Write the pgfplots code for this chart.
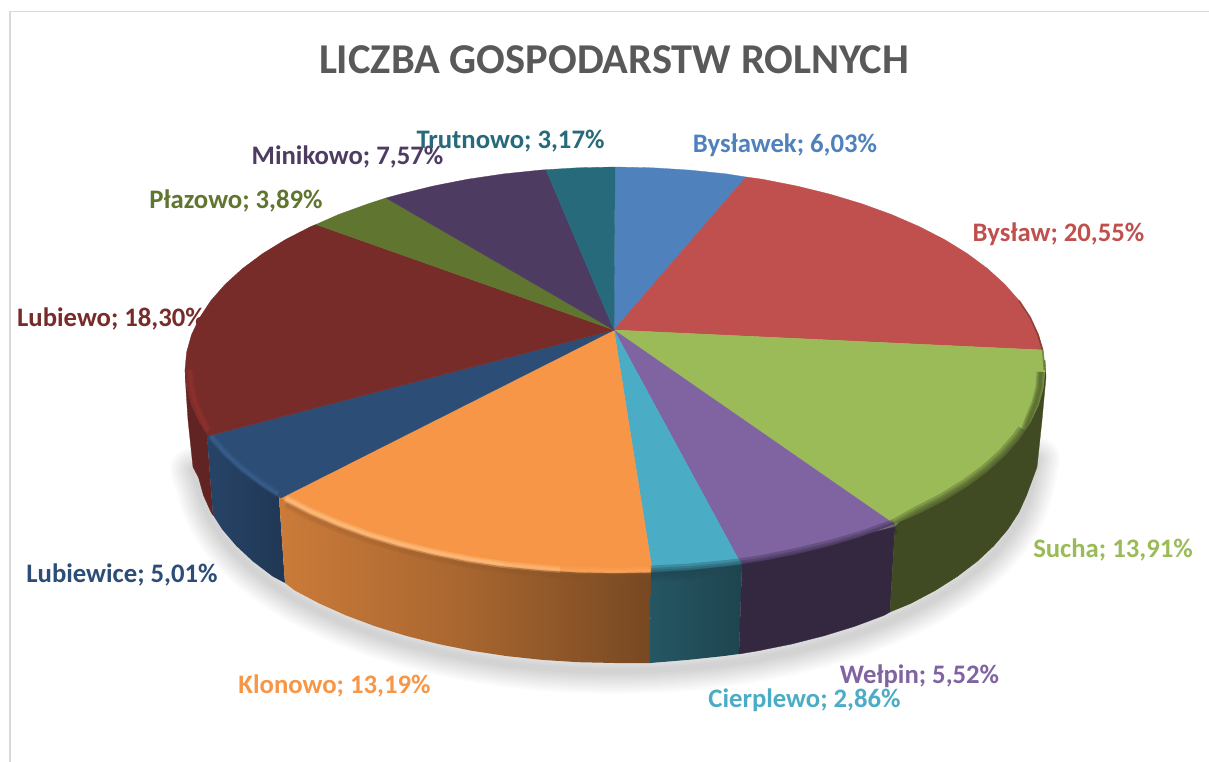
\documentclass[border=0pt]{standalone}
\usepackage{fontspec}
\setmainfont{Carlito}
\usepackage{pgfplots}
\pgfplotsset{compat=1.18}
\usepackage{pgfplotstable}
\definecolor{cA}{HTML}{4F81BD}
\definecolor{cB}{HTML}{C0504D}
\definecolor{cC}{HTML}{9BBB59}
\definecolor{cD}{HTML}{8064A2}
\definecolor{cE}{HTML}{4BACC6}
\definecolor{cF}{HTML}{F79646}
\definecolor{cG}{HTML}{2C4D75}
\definecolor{cH}{HTML}{772C2A}
\definecolor{cI}{HTML}{5F7530}
\definecolor{cJ}{HTML}{4D3B62}
\definecolor{cK}{HTML}{276A7C}
\definecolor{wC}{HTML}{414B23}
\definecolor{wD}{HTML}{332840}
\definecolor{wH}{HTML}{622422}
\pgfplotstableread{
x y
1037 452
1031.4 477.7
1026.6 495.2
1018.8 512.5
1007.8 529.4
993.8 545.8
977 561.5
957.4 576.4
935.2 590.5
910.6 603.5
883.7 615.5
854.8 626.3
824 635.8
791.7 644
758 650.8
723.2 656.1
687.6 659.9
651.4 662.2
615 663
578.6 662.2
542.4 659.9
506.8 656.1
472 650.8
438.3 644
406 635.8
375.2 626.3
346.3 615.5
319.4 603.5
294.8 590.5
272.6 576.4
253 561.5
236.2 545.8
222.2 529.4
211.2 512.5
203.4 495.2
198.6 477.7
193 462
}\rimbottom
\newcommand{\lab}[4]{\node[text=#1,font=\fontsize{26.7}{30}\selectfont\bfseries,inner sep=0pt] at (axis cs:#2,#3) {#4};}
\begin{document}
\begin{tikzpicture}
\begin{axis}[width=1209pt,height=762pt,scale only axis,xmin=0,xmax=1209,ymin=0,ymax=762,y dir=reverse,hide axis,clip=true]
% background and frame
\addplot[fill=white,draw=none] coordinates {(0,0)(1209,0)(1209,762)(0,762)} --cycle;
\addplot[draw=black!15,line width=1.5pt] coordinates {(1209,11.5)(10,11.5)(10,762)};
% shadow
\pgfplotsinvokeforeach{46,42,38,34,30,26,22,18,14,10,6}{
\addplot[draw=black,opacity=0.014,line width=#1pt,line join=round,line cap=round,yshift=-8pt] table[x=x,y=y] {\rimbottom};
}
% walls
\addplot[fill=wH,draw=wH,line width=.3pt] coordinates {(210.9,439.4)(199.7,422.5)(191.5,405.2)(186.6,387.7)(185,370)(186,390)(188,420)(193,467)(198.6,477.7)(203.4,495.2)(211.2,512.5)(213,515)(207,436)} --cycle;
\addplot[left color=cG!88!black,right color=cG!72!black,draw=none] coordinates {(207,436)(213,515)(222.2,529.4)(236.2,545.8)(253,561.5)(272.6,576.4)(285,583)(279,497)} --cycle;
\addplot[left color=cF!82!black,right color=cF!48!black,middle color=cF!68!black,draw=none] coordinates {(279,497)(285,583)(294.8,590.5)(319.4,603.5)(346.3,615.5)(375.2,626.3)(406,635.8)(438.3,644)(472,650.8)(506.8,656.1)(542.4,659.9)(578.6,662.2)(615,663)(650,663)(651,572)} --cycle;
\addplot[left color=cE!50!black,right color=cE!40!black,draw=none] coordinates {(651,572)(650,663)(687.6,659.9)(723.2,656.1)(739,654)(742,564)} --cycle;
\addplot[fill=wD,draw=wD,line width=.3pt] coordinates {(742,564)(739,654)(758,650.8)(791.7,644)(824,635.8)(854.8,626.3)(883.7,615.5)(890,612)(895,527)} --cycle;
\addplot[fill=wC,draw=wC,line width=.3pt] coordinates {(895,527)(890,612)(910.6,603.5)(935.2,590.5)(957.4,576.4)(977,561.5)(993.8,545.8)(1007.8,529.4)(1018.8,512.5)(1026.6,495.2)(1037,467)(1042,420)(1046,377)(1045,360)} --cycle;
% tops
\addplot[fill=cA,draw=cA,line width=.3pt] coordinates {(614,330)(615,167)(652.5,167.8)(689.6,170.1)(726.3,173.9)(746,177)} --cycle;
\addplot[fill=cB,draw=cB,line width=.3pt] coordinates {(614,330)(746,177)(762.1,179.2)(796.7,186)(830,194.2)(861.6,203.7)(891.4,214.5)(919.1,226.5)(944.4,239.5)(967.3,253.6)(987.4,268.5)(1004.7,284.2)(1019.1,300.6)(1030.3,317.5)(1038.5,334.8)(1043,350)} --cycle;
\addplot[fill=cC,draw=cC,line width=.3pt] coordinates {(614,330)(1043,350)(1043.4,352.3)(1045,370)(1043.4,387.7)(1038.5,405.2)(1030.3,422.5)(1019.1,439.4)(1004.7,455.8)(987.4,471.5)(967.3,486.4)(944.4,500.5)(919.1,513.5)(894,524)} --cycle;
\addplot[fill=cD,draw=cD,line width=.3pt] coordinates {(614,330)(894,524)(861.6,536.3)(830,545.8)(796.7,554)(762.1,560.8)(741,564)} --cycle;
\addplot[fill=cE,draw=cE,line width=.3pt] coordinates {(614,330)(741,564)(726.3,566.1)(689.6,569.9)(652.5,572.2)} --cycle;
\addplot[fill=cF,draw=cF,line width=.3pt] coordinates {(614,330)(652.5,572.2)(615,573)(577.5,572.2)(540.4,569.9)(503.7,566.1)(467.9,560.8)(433.3,554)(400,545.8)(368.4,536.3)(338.6,525.5)(310.9,513.5)(285.6,500.5)(281,498)} --cycle;
\addplot[fill=cG,draw=cG,line width=.3pt] coordinates {(614,330)(281,498)(262.7,486.4)(242.6,471.5)(225.3,455.8)(210.9,439.4)(208,436)} --cycle;
\addplot[fill=cH,draw=cH,line width=.3pt] coordinates {(614,330)(208,436)(199.7,422.5)(191.5,405.2)(186.6,387.7)(185,370)(186.6,352.3)(191.5,334.8)(199.7,317.5)(210.9,300.6)(225.3,284.2)(242.6,268.5)(262.7,253.6)(285.6,239.5)(310.9,226.5)(316,224.5)} --cycle;
\addplot[fill=cI,draw=cI,line width=.3pt] coordinates {(614,330)(316,224.5)(338.6,214.5)(368.4,203.7)(386,198)} --cycle;
\addplot[fill=cJ,draw=cJ,line width=.3pt] coordinates {(614,330)(386,198)(400,194.2)(433.3,186)(467.9,179.2)(503.7,173.9)(540.4,170.1)(546,169.7)} --cycle;
\addplot[fill=cK,draw=cK,line width=.3pt] coordinates {(614,330)(546,169.7)(577.5,167.8)(615,167)} --cycle;
% bevel: dark soft rim on the right part
\pgfplotsinvokeforeach{16,11,7,3}{
\addplot[draw=wC,opacity=0.3,line width=#1pt] coordinates {(1025,431)(1019.1,439.4)(1004.7,455.8)(987.4,471.5)(967.3,486.4)(944.4,500.5)(919.1,513.5)(895,527)};
\addplot[draw=wD,opacity=0.3,line width=#1pt] coordinates {(895,527)(861.6,539)(830,548)(796.7,556)(762.1,563)(742,566)};
\addplot[draw=cE!42!black,opacity=0.3,line width=#1pt] coordinates {(742,566)(726.3,568)(689.6,571.5)(651,573.5)};
}
\pgfplotsinvokeforeach{9,6,3}{
\addplot[draw=wC,opacity=0.3,line width=#1pt] coordinates {(1041,372)(1040,387)(1036,403)(1029,420)(1025,431)};
}
\addplot[draw=cB!55!black,opacity=0.6,line width=1.6pt] coordinates {(1019.1,300.6)(1030.3,317.5)(1038,334.8)(1042.5,350)};
\addplot[draw=cC!55!black,opacity=0.6,line width=1.6pt] coordinates {(1042.5,350)(1043,352.3)(1044.3,370)};
% bevel: highlights on the left part
\pgfplotsinvokeforeach{7,4}{
\addplot[draw=cF!55!black,opacity=0.12,line width=#1pt] coordinates {(651,576)(615,577)(577.5,576)(540.4,573.5)(503.7,570)(467.9,564.5)(433.3,558)(400,549.5)(368.4,540)(338.6,529.5)(310.9,517.5)(285.6,504.5)};
}
\pgfplotsinvokeforeach{7,4,2}{
\addplot[draw=orange!45!white,opacity=0.09,line width=#1pt] coordinates {(651,570.5)(615,571)(577.5,570.5)(540.4,568)(503.7,564.5)};
\addplot[draw=orange!45!white,opacity=0.2,line width=#1pt] coordinates {(560,569.5)(503.7,564.5)};
\addplot[draw=orange!45!white,opacity=0.34,line width=#1pt] coordinates {(503.7,564.5)(467.9,559)(433.3,552)(400,544)(368.4,534.5)(338.6,523.5)(310.9,511.5)(285.6,498.5)};
\addplot[draw=cA!80!black,opacity=0.25,line width=#1pt] coordinates {(278,494)(262.7,484)(242.6,469)(225.3,453)(210.9,436.4)};
\addplot[draw=cH!70!red!90!white,opacity=0.18,line width=#1pt] coordinates {(208,431)(202,419)(195,402)(191,385)(190,370)};
}
% labels
\node[text=black!65,font=\fontsize{42.5}{48}\selectfont\bfseries,inner sep=0pt] at (axis cs:614,60) {LICZBA GOSPODARSTW ROLNYCH};
\lab{cA}{785}{145}{Bysławek; 6,03\%}
\lab{cB}{1058.5}{234}{Bysław; 20,55\%}
\lab{cC}{1113}{550}{Sucha; 13,91\%}
\lab{cD}{919.5}{676}{Wełpin; 5,52\%}
\lab{cE}{804.5}{700}{Cierplewo; 2,86\%}
\lab{cF}{334.5}{686}{Klonowo; 13,19\%}
\lab{cG}{122}{575}{Lubiewice; 5,01\%}
\lab{cH}{111}{319}{Lubiewo; 18,30\%}
\lab{cI}{236}{201}{Płazowo; 3,89\%}
\lab{cJ}{347.5}{157}{Minikowo; 7,57\%}
\lab{cK}{510.5}{141}{Trutnowo; 3,17\%}
\end{axis}
\end{tikzpicture}
\end{document}
